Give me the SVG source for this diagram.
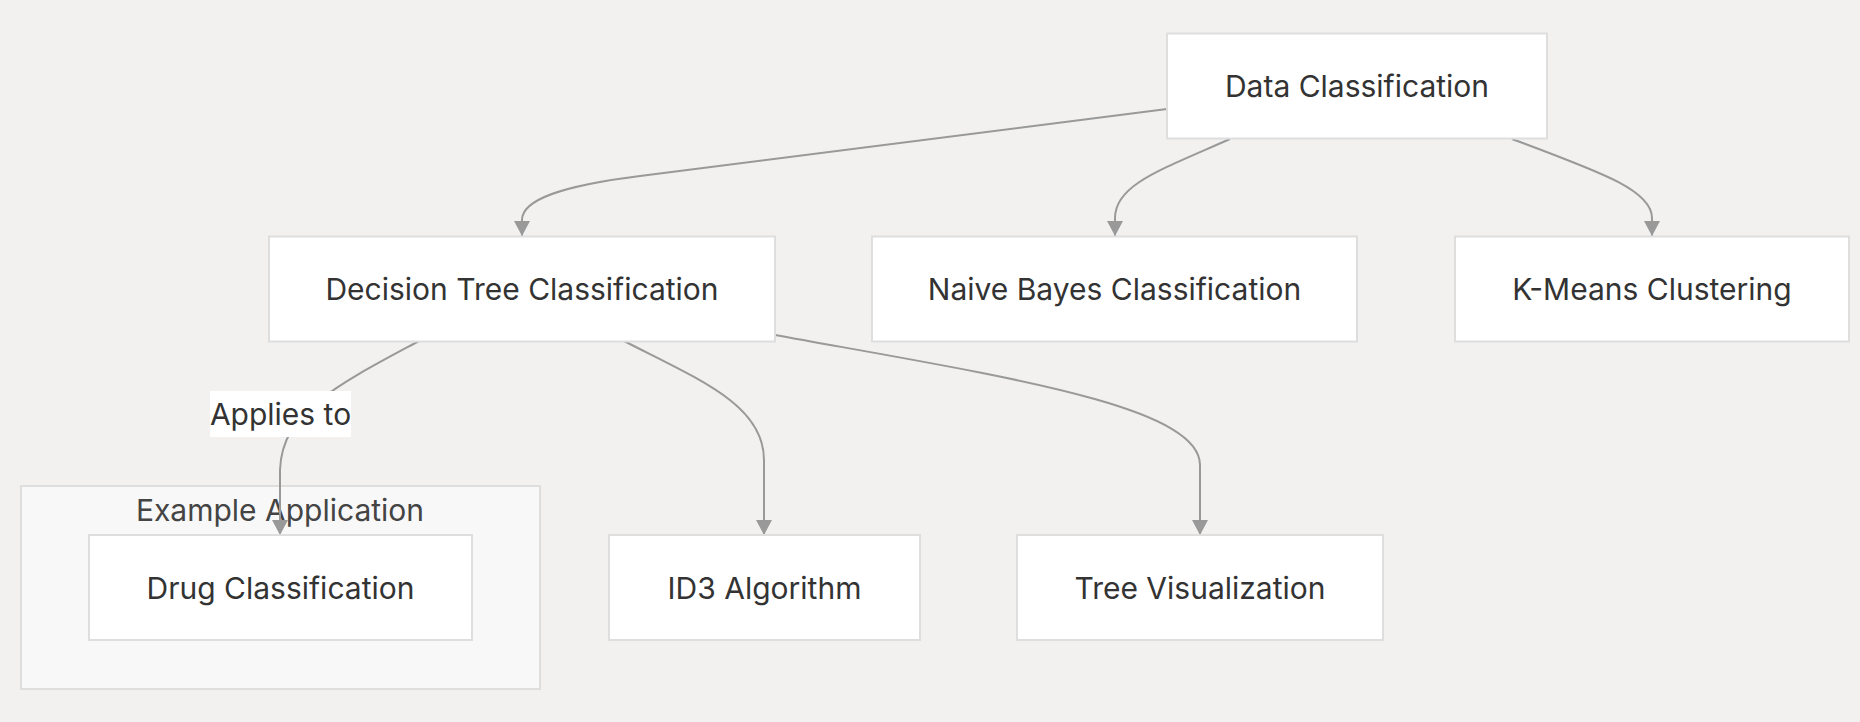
<svg xmlns="http://www.w3.org/2000/svg" width="1860" height="722" viewBox="0 0 1860 722">
<style>
.bg{fill:#f2f1f0}
.node rect{fill:#ffffff;stroke:#dedede;stroke-width:2}
.cluster rect{fill:#f8f8f8;stroke:#dedede;stroke-width:2}
text{font-family:Inter,"Liberation Sans",sans-serif;font-size:30px;fill:#333333;text-anchor:middle}
.ctext{fill:#444444}
.edges path{fill:none;stroke:#999999;stroke-width:2}
.lbl rect{fill:#ffffff;stroke:none}
</style>
<defs>
<marker id="arr" markerUnits="userSpaceOnUse" markerWidth="16" markerHeight="16" refX="15" refY="8" orient="auto">
<path d="M0,0 L15,8 L0,16 z" fill="#999999"/>
</marker>
</defs>
<rect class="bg" x="0" y="0" width="1860" height="722"/>
<g id="cluster-example" class="cluster">
<rect x="21" y="486" width="519" height="203"/>
<text class="ctext" x="280" y="521">Example Application</text>
</g>
<g class="edges">
<path d="M1167,109 L640,176 C560,186 522,200 522,220 L522,236" marker-end="url(#arr)"/>
<path d="M1230,139 C1160,170 1115,185 1115,218 L1115,236" marker-end="url(#arr)"/>
<path d="M1512,139 C1600,172 1652,190 1652,218 L1652,236" marker-end="url(#arr)"/>
<path d="M419,341 C380,362 345,380 320,400 C295,420 281,440 280,470 L280,535" marker-end="url(#arr)"/>
<path d="M624,341 C700,380 764,405 764,460 L764,535" marker-end="url(#arr)"/>
<path d="M775,335 C1000,376 1200,405 1200,465 L1200,535" marker-end="url(#arr)"/>
<g class="lbl" id="label-applies">
<rect x="210" y="391" width="141" height="46"/>
<text x="280.5" y="425">Applies to</text>
</g>
</g>
<g id="node-data" class="node">
<rect x="1167" y="33.5" width="380" height="105"/>
<text x="1357" y="97">Data Classification</text>
</g>
<g id="node-dt" class="node">
<rect x="269" y="236.5" width="506" height="105"/>
<text x="522" y="300">Decision Tree Classification</text>
</g>
<g id="node-nb" class="node">
<rect x="872" y="236.5" width="485" height="105"/>
<text x="1114.5" y="300">Naive Bayes Classification</text>
</g>
<g id="node-km" class="node">
<rect x="1455" y="236.5" width="394" height="105"/>
<text x="1652" y="300">K-Means Clustering</text>
</g>
<g id="node-drug" class="node">
<rect x="89" y="535" width="383" height="105"/>
<text x="280.5" y="599">Drug Classification</text>
</g>
<g id="node-id3" class="node">
<rect x="609" y="535" width="311" height="105"/>
<text x="764.5" y="599">ID3 Algorithm</text>
</g>
<g id="node-tv" class="node">
<rect x="1017" y="535" width="366" height="105"/>
<text x="1200" y="599">Tree Visualization</text>
</g>
</svg>
